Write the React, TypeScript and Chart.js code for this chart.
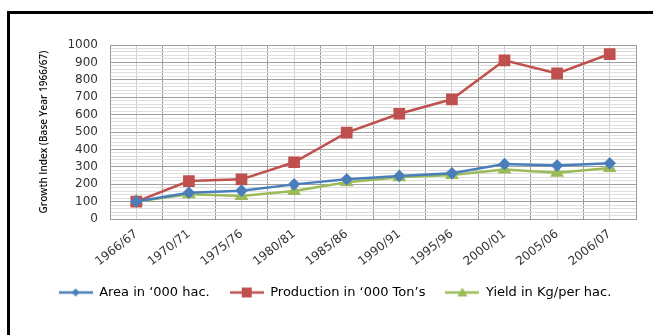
import React, { useEffect, useRef } from "react";
import { Chart, registerables } from "chart.js";

Chart.register(...registerables);

const categories = ["1966/67", "1970/71", "1975/76", "1980/81", "1985/86", "1990/91", "1995/96", "2000/01", "2005/06", "2006/07"];
const areaValues = [100, 151, 163, 199, 228, 247, 263, 316, 308, 320];
const productionValues = [100, 218, 228, 326, 496, 605, 688, 912, 837, 948];
const yieldValues = [100, 142, 132, 161, 211, 240, 253, 285, 266, 293];
const seriesNames = ["Area in \u2018000 hac.", "Production in \u2018000 Ton\u2019s", "Yield in Kg/per hac."];
const yTitle = "Growth Index (Base Year 1966/67)";

const BLUE = "#4A7EBB";
const RED = "#C0504D";
const GREEN = "#9BBB59";

function makeLegendIcon(color: string, style: string, r: number) {
  const c = document.createElement("canvas");
  c.width = 34;
  c.height = 14;
  const ctx = c.getContext("2d")!;
  ctx.strokeStyle = color;
  ctx.lineWidth = 2.5;
  ctx.beginPath();
  ctx.moveTo(0, 7);
  ctx.lineTo(34, 7);
  ctx.stroke();
  ctx.fillStyle = color;
  ctx.beginPath();
  const x = 17, y = 7;
  if (style === "rect") {
    ctx.rect(x - r, y - r, 2 * r, 2 * r);
  } else if (style === "rectRot") {
    ctx.moveTo(x, y - r);
    ctx.lineTo(x + r, y);
    ctx.lineTo(x, y + r);
    ctx.lineTo(x - r, y);
    ctx.closePath();
  } else {
    ctx.moveTo(x, y - r);
    ctx.lineTo(x + r, y + r * 0.8);
    ctx.lineTo(x - r, y + r * 0.8);
    ctx.closePath();
  }
  ctx.fill();
  return c;
}

const framePlugin = {
  id: "frame",
  beforeDraw(chart: any) {
    const ctx = chart.ctx;
    ctx.save();
    ctx.fillStyle = "#ffffff";
    ctx.fillRect(0, 0, chart.width, chart.height);
    ctx.strokeStyle = "#000000";
    ctx.lineWidth = 3;
    ctx.beginPath();
    ctx.moveTo(8.5, chart.height + 5);
    ctx.lineTo(8.5, 12.5);
    ctx.lineTo(chart.width + 5, 12.5);
    ctx.stroke();
    ctx.restore();
  },
};

export default function App() {
  const ref = useRef<HTMLCanvasElement>(null);
  useEffect(() => {
    const icons = [
      makeLegendIcon(BLUE, "rectRot", 4),
      makeLegendIcon(RED, "rect", 5),
      makeLegendIcon(GREEN, "triangle", 5),
    ];
    const colors = [BLUE, RED, GREEN];
    const chart = new Chart(ref.current!, {
      type: "line",
      data: {
        labels: categories,
        datasets: [
          {
            label: seriesNames[0],
            data: areaValues,
            borderColor: BLUE,
            backgroundColor: BLUE,
            borderWidth: 2.5,
            pointStyle: "rectRot",
            pointRadius: 4.5,
            pointHoverRadius: 4.5,
          },
          {
            label: seriesNames[1],
            data: productionValues,
            borderColor: RED,
            backgroundColor: RED,
            borderWidth: 2.5,
            pointStyle: "rect",
            pointRadius: 6.5,
            pointHoverRadius: 6.5,
          },
          {
            label: seriesNames[2],
            data: yieldValues,
            borderColor: GREEN,
            backgroundColor: GREEN,
            borderWidth: 2.5,
            pointStyle: "triangle",
            pointRadius: 5.5,
            pointHoverRadius: 5.5,
          },
        ],
      },
      options: {
        animation: false,
        responsive: false,
        maintainAspectRatio: false,
        layout: { padding: { left: 34, right: 17, top: 45, bottom: 26 } },
        font: { family: "'DejaVu Sans'" },
        scales: {
          x: {
            type: "category",
            offset: true,
            grid: { offset: true, color: "#9a9a9a", lineWidth: 1, drawTicks: false },
            border: { color: "#9a9a9a" },
            ticks: {
              minRotation: 38,
              maxRotation: 38,
              autoSkip: false,
              padding: 8,
              color: "#333333",
              font: { family: "'DejaVu Sans'", size: 12 },
            },
            afterFit: (s: any) => { s.height = 47; },
          },
          x2: {
            type: "category",
            position: "bottom",
            offset: true,
            grid: { offset: false, color: "#d0d0d0", lineWidth: 1, drawTicks: false },
            border: { display: false },
            ticks: { display: false },
            afterFit: (s: any) => { s.height = 0; },
          },
          y: {
            min: 0,
            max: 1000,
            border: { color: "#9a9a9a" },
            ticks: {
              stepSize: 20,
              autoSkip: false,
              padding: 12,
              color: "#333333",
              font: { family: "'DejaVu Sans'", size: 12 },
              callback: (v: any) => (Number(v) % 100 === 0 ? String(v) : ""),
            },
            grid: {
              drawTicks: false,
              color: (ctx: any) => (ctx.tick && ctx.tick.value % 100 === 0 ? "#a0a0a0" : "#dedede"),
            },
            title: {
              display: true,
              text: yTitle,
              color: "#111111",
              padding: { top: 4, bottom: 0 },
              font: { family: "'Open Sans'", size: 10, weight: "600" },
            },
            afterFit: (s: any) => { s.width = 76; },
          },
        },
        plugins: {
          legend: {
            position: "bottom",
            labels: {
              usePointStyle: true,
              pointStyleWidth: 34,
              padding: 20,
              color: "#222222",
              font: { family: "'DejaVu Sans'", size: 13 },
              generateLabels: () =>
                seriesNames.map((name, i) => ({
                  text: name,
                  fillStyle: colors[i],
                  strokeStyle: colors[i],
                  lineWidth: 0,
                  pointStyle: icons[i],
                  datasetIndex: i,
                  hidden: false,
                })),
            },
          },
          tooltip: { enabled: false },
        },
      } as any,
      plugins: [framePlugin],
    });
    return () => chart.destroy();
  }, []);
  return (
    <div style={{ position: "absolute", left: 0, top: 0, width: 653, height: 335 }}>
      <canvas ref={ref} width={653} height={335} style={{ width: 653, height: 335, display: "block" }} />
    </div>
  );
}
